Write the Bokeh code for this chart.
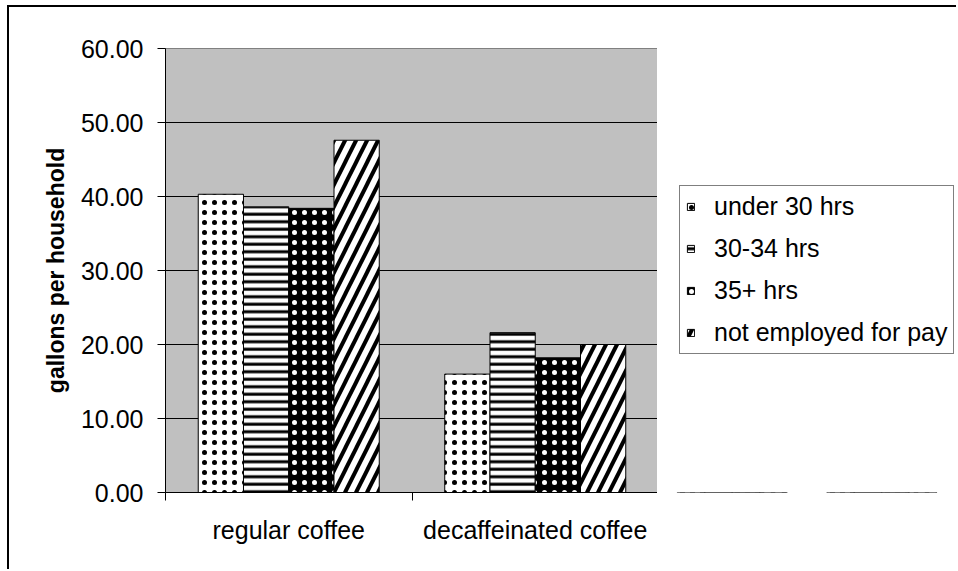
from bokeh.plotting import figure
from bokeh.layouts import row
from bokeh.models import (ColumnDataSource, Range1d, FactorRange, FixedTicker, LinearAxis,
                          CategoricalAxis, PrintfTickFormatter, Legend, LegendItem)
from bokeh.transform import dodge
from bokeh.embed import file_html
from bokeh.resources import INLINE

# ---- data ----
categories = ["regular coffee", "decaffeinated coffee"]
series_names = ["under 30 hrs", "30-34 hrs", "35+ hrs", "not employed for pay"]
under_30 = [40.3, 16.0]
hrs_30_34 = [38.6, 21.6]
hrs_35_plus = [38.4, 18.2]
not_employed = [47.6, 20.0]
y_ticks = [0, 10, 20, 30, 40, 50, 60]

FONT = "Liberation Sans"

source = ColumnDataSource(data=dict(
    cat=categories, s0=under_30, s1=hrs_30_34, s2=hrs_35_plus, s3=not_employed))

p = figure(width=650, height=564, x_range=FactorRange(*categories), y_range=Range1d(0, 60),
           output_backend="svg", toolbar_location=None, x_axis_location=None,
           y_axis_location=None,
           min_border_left=156, min_border_right=1, min_border_top=41, min_border_bottom=79)
p.margin = (5, 0, 0, 7)
p.background_fill_color = "#C0C0C0"
p.border_fill_color = "white"
p.outline_line_color = "#808080"
p.outline_line_width = 1
p.styles = {"border-left": "2px solid black", "border-top": "2px solid black"}

# y axis
yaxis = LinearAxis(ticker=FixedTicker(ticks=y_ticks), formatter=PrintfTickFormatter(format="%.2f"),
                   axis_label="gallons per household")
yaxis.axis_line_color = "black"
yaxis.major_tick_out = 8
yaxis.major_tick_in = 0
yaxis.minor_tick_line_color = None
yaxis.major_label_standoff = 14
yaxis.major_label_text_font = FONT
yaxis.major_label_text_font_size = "25px"
yaxis.major_label_text_color = "black"
yaxis.axis_label_text_font = FONT
yaxis.axis_label_text_font_size = "23px"
yaxis.axis_label_text_font_style = "bold"
yaxis.axis_label_text_color = "black"
yaxis.axis_label_standoff = 9
p.add_layout(yaxis, "left")

# x axis: tick marks at category boundaries (synthetic positions of the factor range)
edge_ticks = list(range(len(categories) + 1))
tick_axis = LinearAxis(ticker=FixedTicker(ticks=edge_ticks))
tick_axis.major_label_overrides = {t: "" for t in edge_ticks}
tick_axis.major_label_text_font_size = "1px"
tick_axis.major_label_standoff = 0
tick_axis.axis_line_color = "black"
tick_axis.major_tick_out = 8
tick_axis.major_tick_in = 0
tick_axis.minor_tick_line_color = None
p.add_layout(tick_axis, "below")

xaxis = CategoricalAxis()
xaxis.axis_line_color = None
xaxis.major_tick_line_color = None
xaxis.minor_tick_line_color = None
xaxis.major_label_standoff = 9
xaxis.major_label_text_font = FONT
xaxis.major_label_text_font_size = "25px"
xaxis.major_label_text_color = "black"
p.add_layout(xaxis, "below")

p.xgrid.visible = False
p.ygrid.grid_line_color = "black"
p.ygrid.grid_line_width = 1
p.ygrid.ticker = FixedTicker(ticks=y_ticks)

w = 0.1836
offsets = [-1.5 * w, -0.5 * w, 0.5 * w, 1.5 * w]
cols = ["s0", "s1", "s2", "s3"]
styles = [
    dict(fill_color="white", hatch_pattern="dot", hatch_color="black", hatch_scale=10, hatch_weight=0.5),
    dict(fill_color="white", hatch_pattern="horizontal_line", hatch_color="black", hatch_scale=7.5, hatch_weight=3),
    dict(fill_color="black", hatch_pattern="dot", hatch_color="white", hatch_scale=10, hatch_weight=0.5),
    dict(fill_color="white", hatch_pattern="right_diagonal_line", hatch_color="black", hatch_scale=22, hatch_weight=4),
]
for i, col in enumerate(cols):
    p.vbar(x=dodge("cat", offsets[i], range=p.x_range), top=col, width=w, bottom=0,
           source=source, line_color="black", line_width=1, **styles[i])

# ---- legend panel (separate figure to the right of the plot) ----
# same series drawn below its visible y-range, only to give the legend its glyphs
q = figure(width=299, height=564, x_range=FactorRange(*categories), y_range=Range1d(100, 101),
           output_backend="svg", toolbar_location=None, x_axis_location=None, y_axis_location=None,
           min_border_left=0, min_border_right=0, min_border_top=0, min_border_bottom=0)
q.margin = (5, 0, 0, 0)
q.styles = {"border-top": "2px solid black"}
q.outline_line_color = None
q.background_fill_color = "white"
q.border_fill_color = "white"
q.xgrid.visible = False
q.ygrid.visible = False
legend_renderers = [q.vbar(x=dodge("cat", offsets[i], range=q.x_range), top=col, width=w, bottom=0,
                           source=source, line_color="black", line_width=1, **styles[i])
                    for i, col in enumerate(cols)]

legend = Legend(items=[LegendItem(label=series_names[i], renderers=[legend_renderers[i]]) for i in range(4)],
                location=(22, 138))
legend.border_line_color = "black"
legend.border_line_width = 1
legend.background_fill_color = "white"
legend.background_fill_alpha = 1
legend.label_text_font = FONT
legend.label_text_font_size = "25px"
legend.label_text_color = "black"
legend.glyph_width = 9
legend.glyph_height = 9
legend.label_standoff = 19
legend.padding = 6
legend.spacing = 13
legend.margin = 0
q.add_layout(legend, "center")

layout = row(p, q)
layout.spacing = 0

open("out.html", "w").write(file_html(layout, INLINE))
